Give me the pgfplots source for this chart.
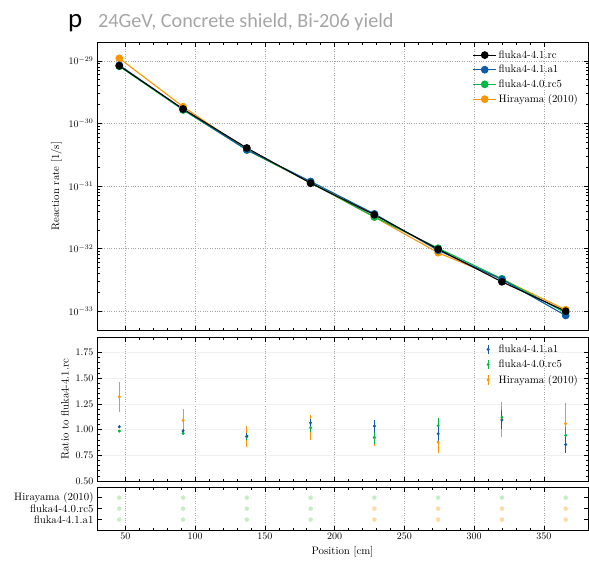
\documentclass[border=0pt]{standalone}
\usepackage{fontspec}
\usepackage{pgfplots}
\pgfplotsset{compat=1.18}
\newfontfamily\titlefont{Carlito}

\definecolor{sciblue}{HTML}{0C5DA5}
\definecolor{scigreen}{HTML}{00B945}
\definecolor{sciorange}{HTML}{FF9500}
\definecolor{passgreen}{HTML}{C6EEC6}
\definecolor{warnorange}{HTML}{FDDBA6}
\definecolor{titlegray}{HTML}{A6A6A6}

\pgfplotsset{
  panel/.style={
    scale only axis, width=491pt, anchor=north west,
    xmin=29.7, xmax=381.6,
    xtick={50,100,150,200,250,300,350}, minor x tick num=4,
    tick align=inside,
    major tick length=4.5pt, minor tick length=2.5pt,
    tick style={black, line width=0.5pt},
    axis line style={line width=0.6pt},
    xmajorgrids, x grid style={gray!70, dotted, line width=0.5pt},
    tick label style={font=\fontsize{10.3}{12}\selectfont},
    label style={font=\fontsize{10.8}{12}\selectfont},
  },
  rate/.style={line width=1.1pt, mark=*, mark size=3.3pt},
  ratio/.style={only marks, mark=*, mark size=1.3pt, forget plot,
    error bars/.cd, y dir=both, y explicit,
    error bar style={line width=1pt}, error mark=none},
  % legend symbol for a point with a vertical error bar
  errkey/.style={
    legend image code/.code={%
      \draw[draw=none] (0cm,0cm) -- (0.55cm,0cm);
      \draw[##1, line width=1pt] (0.25cm,-0.17cm) -- (0.25cm,0.17cm);
      \fill[##1] (0.25cm,0cm) circle (1.3pt);}},
}

\begin{document}
\begin{tikzpicture}
\useasboundingbox (0,0) rectangle (589pt,-563pt);

\node[anchor=base west, inner sep=0] at (68pt,-27pt)
  {\titlefont\fontsize{27}{30}\selectfont p};
\node[anchor=base west, inner sep=0, text=titlegray] at (98pt,-27.5pt)
  {\titlefont\fontsize{20.2}{24}\selectfont 24GeV, Concrete shield, Bi-206 yield};

% reaction rates
\begin{axis}[panel, at={(97pt,-42pt)}, height=288pt,
  ymode=log, ymin=5.01e-34, ymax=1.995e-29,
  ytick={1e-33,1e-32,1e-31,1e-30,1e-29},
  xticklabels={},
  ymajorgrids, y grid style={gray!70, dotted, line width=0.5pt},
  ylabel={Reaction rate [1/s]},
  reverse legend,
  legend cell align=left,
  legend image code/.code={%
    \draw[mark repeat=2, mark phase=2, #1]
      plot coordinates {(0cm,0cm) (0.4cm,0cm) (0.8cm,0cm)};},
  legend style={at={(0.99,0.985)}, anchor=north east, draw=none, fill=none,
    font=\fontsize{10.8}{12}\selectfont, row sep=1.5pt},
]
\addplot[sciorange, rate] coordinates {
  (45.7,1.096e-29) (91.4,1.85e-30) (137.1,3.77e-31) (182.8,1.13e-31)
  (228.5,3.19e-32) (274.2,8.6e-33) (319.9,3.25e-33) (365.6,1.057e-33)};
\addlegendentry{Hirayama (2010)}
\addplot[scigreen, rate] coordinates {
  (45.7,8.18e-30) (91.4,1.64e-30) (137.1,3.77e-31) (182.8,1.13e-31)
  (228.5,3.21e-32) (274.2,1.016e-32) (319.9,3.30e-33) (365.6,9.43e-34)};
\addlegendentry{fluka4-4.0.rc5}
\addplot[sciblue, rate] coordinates {
  (45.7,8.52e-30) (91.4,1.68e-30) (137.1,3.79e-31) (182.8,1.183e-31)
  (228.5,3.59e-32) (274.2,9.40e-33) (319.9,3.22e-33) (365.6,8.55e-34)};
\addlegendentry{fluka4-4.1.a1}
\addplot[black, rate] coordinates {
  (45.7,8.3e-30) (91.4,1.7e-30) (137.1,4.05e-31) (182.8,1.11e-31)
  (228.5,3.47e-32) (274.2,9.8e-33) (319.9,2.95e-33) (365.6,1.0e-33)};
\addlegendentry{fluka4-4.1.rc}
\end{axis}

% ratios to the reference version
\begin{axis}[panel, at={(97pt,-337pt)}, height=144pt,
  ymin=0.5, ymax=1.9,
  ytick={0.5,0.75,1.0,1.25,1.5,1.75}, minor y tick num=4,
  yticklabel style={/pgf/number format/.cd, fixed, fixed zerofill, precision=2},
  ymajorgrids, y grid style={gray!12, line width=0.5pt},
  xticklabels={},
  ylabel={Ratio to fluka4-4.1.rc},
  legend cell align=left,
  legend style={at={(0.99,0.975)}, anchor=north east, draw=none, fill=none,
    font=\fontsize{10.8}{12}\selectfont, row sep=2pt},
]
\addlegendimage{errkey, sciblue}
\addlegendentry{fluka4-4.1.a1}
\addlegendimage{errkey, scigreen}
\addlegendentry{fluka4-4.0.rc5}
\addlegendimage{errkey, sciorange}
\addlegendentry{Hirayama (2010)}

\addplot[sciorange, ratio] coordinates {
  (45.7,1.32) +- (0,0.145) (91.4,1.09) +- (0,0.11) (137.1,0.93) +- (0,0.10)
  (182.8,1.02) +- (0,0.12) (228.5,0.92) +- (0,0.075) (274.2,0.878) +- (0,0.11)
  (319.9,1.10) +- (0,0.17) (365.6,1.057) +- (0,0.20)};
\addplot[scigreen, ratio] coordinates {
  (45.7,0.985) +- (0,0.012) (91.4,0.963) +- (0,0.015) (137.1,0.93) +- (0,0.03)
  (182.8,1.018) +- (0,0.04) (228.5,0.924) +- (0,0.06) (274.2,1.037) +- (0,0.075)
  (319.9,1.12) +- (0,0.08) (365.6,0.943) +- (0,0.08)};
\addplot[sciblue, ratio] coordinates {
  (45.7,1.027) +- (0,0.015) (91.4,0.988) +- (0,0.02) (137.1,0.937) +- (0,0.03)
  (182.8,1.066) +- (0,0.035) (228.5,1.034) +- (0,0.055) (274.2,0.959) +- (0,0.07)
  (319.9,1.093) +- (0,0.085) (365.6,0.855) +- (0,0.08)};
\end{axis}

% agreement flags per position
\begin{axis}[panel, at={(97pt,-487pt)}, height=43pt,
  ymin=-0.95, ymax=2.97,
  ytick={0,1,2},
  yticklabels={fluka4-4.1.a1, fluka4-4.0.rc5, Hirayama (2010)},
  yticklabel style={font=\fontsize{10.8}{12}\selectfont},
  xlabel={Position [cm]},
]
\addplot[only marks, mark=*, mark size=2pt, passgreen] coordinates {
  (45.7,2) (91.4,2) (137.1,2) (182.8,2) (228.5,2) (274.2,2) (319.9,2) (365.6,2)
  (45.7,1) (91.4,1) (137.1,1) (182.8,1)
  (45.7,0) (91.4,0) (137.1,0) (182.8,0)};
\addplot[only marks, mark=*, mark size=2pt, warnorange] coordinates {
  (228.5,1) (274.2,1) (319.9,1) (365.6,1)
  (228.5,0) (274.2,0) (319.9,0) (365.6,0)};
\end{axis}
\end{tikzpicture}
\end{document}
